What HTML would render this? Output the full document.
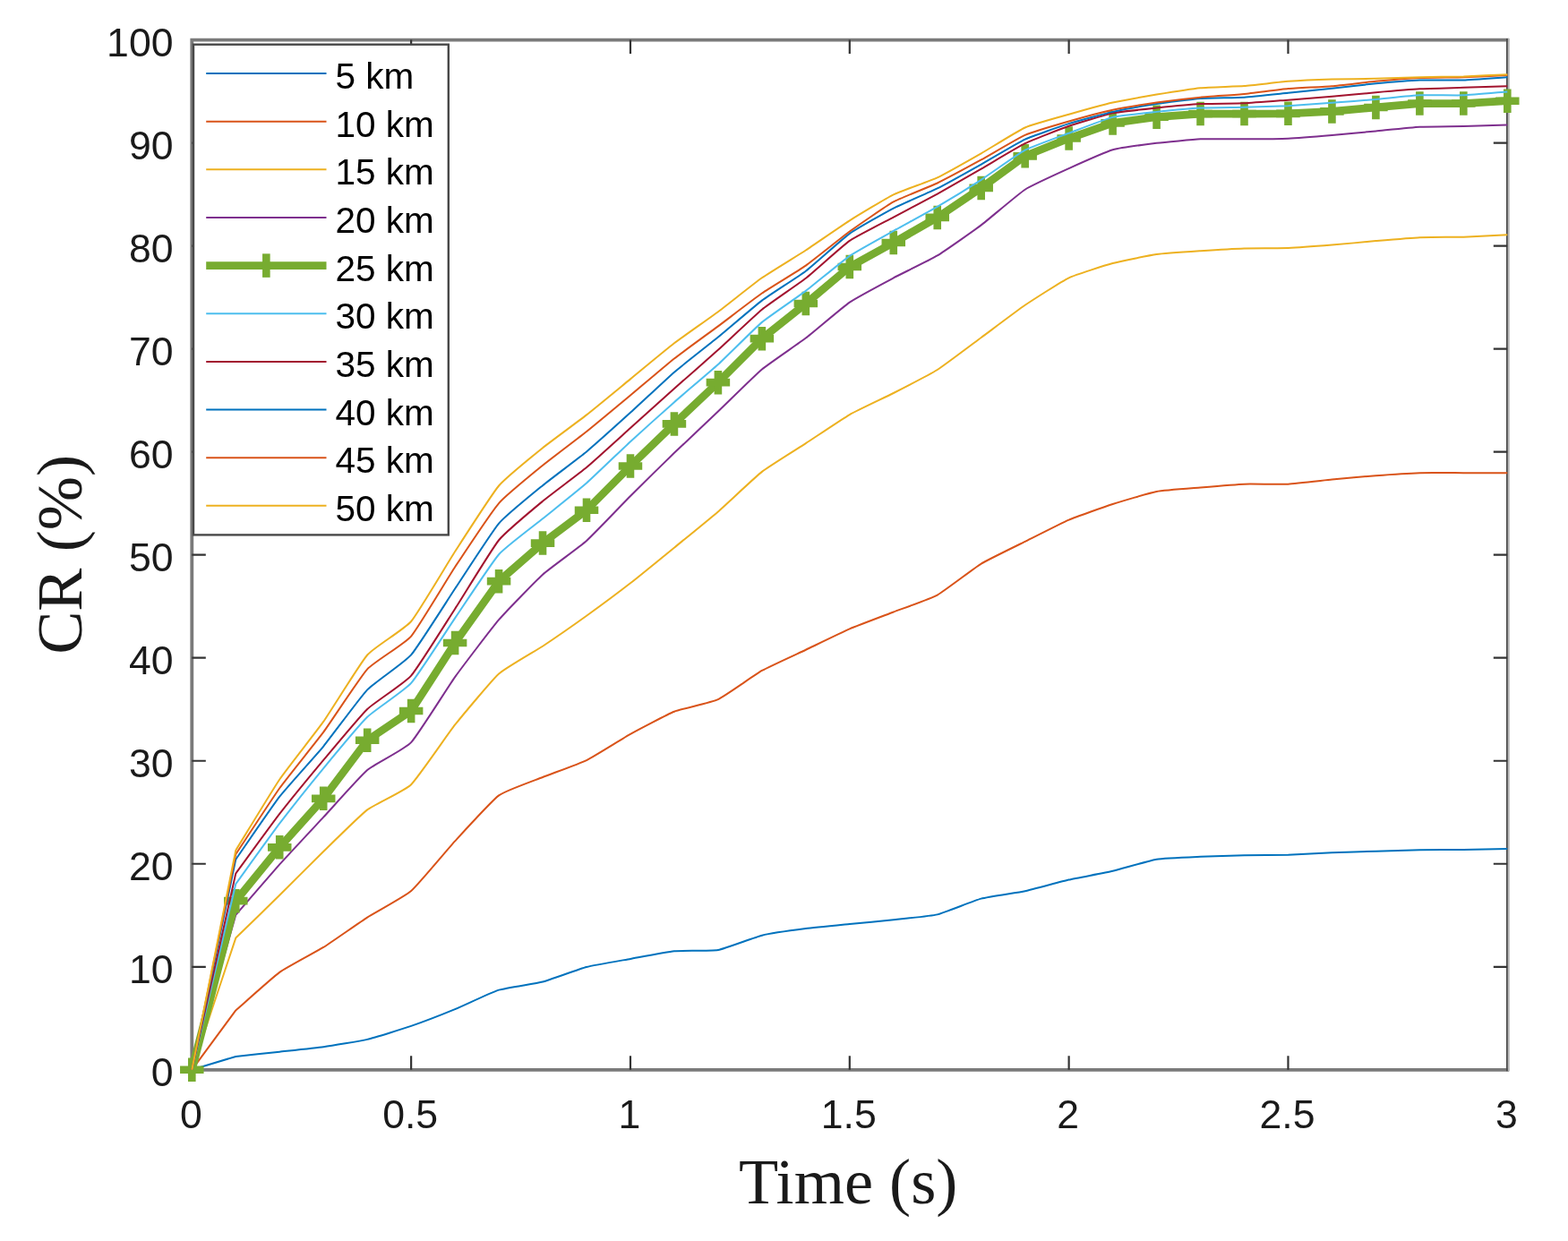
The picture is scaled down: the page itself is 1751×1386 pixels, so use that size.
<!DOCTYPE html><html><head><meta charset="utf-8"><title>CR vs Time</title><style>html,body{margin:0;padding:0;background:#fff;}svg{display:block;}</style></head><body>
<svg width="1751" height="1386" viewBox="0 0 1751 1386">
<rect x="0" y="0" width="1751" height="1386" fill="#ffffff"/>
<path fill="none" stroke="#7a7a7a" stroke-width="3.8" stroke-linecap="square" d="M214.3 44.6V1194.8M214.3 1194.8H1683.3M214.3 44.6H1683.3"/>
<line x1="1684.7" y1="43.1" x2="1684.7" y2="1196.3" stroke="#b8b8b8" stroke-width="2.2"/>
<line x1="1682.9" y1="43.1" x2="1682.9" y2="1196.3" stroke="#4c4c4c" stroke-width="1.8"/>
<path fill="none" stroke="#333333" stroke-width="2.2" d="M459.13 1194.8V1179.3M459.13 44.6V60.1M703.97 1194.8V1179.3M703.97 44.6V60.1M948.8 1194.8V1179.3M948.8 44.6V60.1M1193.63 1194.8V1179.3M1193.63 44.6V60.1M1438.47 1194.8V1179.3M1438.47 44.6V60.1M214.3 1079.78H229.8M1683.3 1079.78H1667.8M214.3 964.76H229.8M1683.3 964.76H1667.8M214.3 849.74H229.8M1683.3 849.74H1667.8M214.3 734.72H229.8M1683.3 734.72H1667.8M214.3 619.7H229.8M1683.3 619.7H1667.8M214.3 504.68H229.8M1683.3 504.68H1667.8M214.3 389.66H229.8M1683.3 389.66H1667.8M214.3 274.64H229.8M1683.3 274.64H1667.8M214.3 159.62H229.8M1683.3 159.62H1667.8"/>
<path fill="none" stroke="#0072BD" stroke-width="2.0" stroke-linejoin="round" d="M214.3 1194.8L263.27 1179.96C270.61 1179.17 304.89 1175.47 312.23 1174.67C319.58 1173.87 353.86 1170.3 361.2 1169.27C368.55 1168.23 402.82 1162.62 410.17 1160.87C417.51 1159.12 451.79 1148.44 459.13 1145.92C466.48 1143.39 500.75 1130.19 508.1 1127.17C515.45 1124.15 549.72 1107.95 557.07 1105.66C564.41 1103.36 598.69 1098.5 606.03 1096.57C613.38 1094.65 647.65 1081.93 655 1080.01C662.35 1078.09 696.62 1072.26 703.97 1070.92C711.31 1069.59 745.59 1062.92 752.93 1062.18C760.28 1061.44 794.56 1062.34 801.9 1061.03C809.25 1059.72 843.52 1046.49 850.87 1044.7C858.21 1042.9 892.49 1038.06 899.83 1037.11C907.18 1036.16 941.45 1032.79 948.8 1032.05C956.14 1031.3 990.42 1028.02 997.77 1027.22C1005.11 1026.41 1039.39 1023.12 1046.73 1021.35C1054.08 1019.58 1088.36 1005.59 1095.7 1003.64C1103.05 1001.68 1137.32 996.82 1144.67 995.24C1152.01 993.66 1186.29 984.27 1193.63 982.59C1200.98 980.91 1235.25 974.53 1242.6 972.81C1249.94 971.09 1284.22 960.9 1291.57 959.7C1298.91 958.5 1333.19 957.15 1340.53 956.82C1347.88 956.5 1382.15 955.48 1389.5 955.33C1396.85 955.17 1431.12 954.98 1438.47 954.75C1445.81 954.53 1480.09 952.64 1487.43 952.34C1494.78 952.04 1529.06 950.96 1536.4 950.73C1543.75 950.49 1578.02 949.37 1585.37 949.23C1592.71 949.09 1626.99 948.97 1634.33 948.89C1641.68 948.8 1675.95 948.2 1683.3 948.08"/>
<path fill="none" stroke="#D95319" stroke-width="2.0" stroke-linejoin="round" d="M214.3 1194.8L263.27 1128.43C270.61 1122.05 304.89 1091.16 312.23 1085.88C319.58 1080.59 353.86 1062.52 361.2 1057.93C368.55 1053.33 402.82 1029.29 410.17 1024.57C417.51 1019.85 451.79 1001.4 459.13 995.01C466.48 988.62 500.75 947.34 508.1 939.34C515.45 931.34 549.72 893.74 557.07 888.39C564.41 883.04 598.69 870.98 606.03 868.03C613.38 865.08 647.65 852.66 655 849.05C662.35 845.44 696.62 823.91 703.97 819.83C711.31 815.76 745.59 797.67 752.93 794.76C760.28 791.85 794.56 784.51 801.9 781.07C809.25 777.64 843.52 753.13 850.87 748.98C858.21 744.83 892.49 729.24 899.83 725.75C907.18 722.25 941.45 705.57 948.8 702.4C956.14 699.23 990.42 686.37 997.77 683.54C1005.11 680.7 1039.39 668.6 1046.73 664.56C1054.08 660.51 1088.36 634.07 1095.7 629.59C1103.05 625.11 1137.32 608.54 1144.67 604.86C1152.01 601.19 1186.29 583.73 1193.63 580.59C1200.98 577.45 1235.25 565.37 1242.6 563C1249.94 560.62 1284.22 550.35 1291.57 548.96C1298.91 547.57 1333.19 545.1 1340.53 544.48C1347.88 543.86 1382.15 540.97 1389.5 540.68C1396.85 540.4 1431.12 541.06 1438.47 540.68C1445.81 540.3 1480.09 536.34 1487.43 535.62C1494.78 534.9 1529.06 531.7 1536.4 531.13C1543.75 530.57 1578.02 528.37 1585.37 528.14C1592.71 527.92 1626.99 528.14 1634.33 528.14C1641.68 528.14 1675.95 528.14 1683.3 528.14"/>
<path fill="none" stroke="#EDB120" stroke-width="2.0" stroke-linejoin="round" d="M214.3 1194.8L263.27 1047.57C270.61 1040.41 304.89 1007.09 312.23 999.84C319.58 992.59 353.86 958.12 361.2 950.96C368.55 943.8 402.82 909.98 410.17 904.37C417.51 898.77 451.79 883.31 459.13 876.19C466.48 869.08 500.75 818.76 508.1 809.48C515.45 800.21 549.72 759.13 557.07 752.55C564.41 745.97 598.69 726.58 606.03 721.72C613.38 716.87 647.65 693.07 655 687.79C662.35 682.51 696.62 657.04 703.97 651.33C711.31 645.62 745.59 617.64 752.93 611.65C760.28 605.65 794.56 577.75 801.9 571.39C809.25 565.03 843.52 532.6 850.87 526.88C858.21 521.16 892.49 499.92 899.83 495.13C907.18 490.35 941.45 467.25 948.8 463.04C956.14 458.83 990.42 442.76 997.77 439C1005.11 435.25 1039.39 417.66 1046.73 413.01C1054.08 408.36 1088.36 382.43 1095.7 377.01C1103.05 371.59 1137.32 345.78 1144.67 340.78C1152.01 335.77 1186.29 313.8 1193.63 310.3C1200.98 306.79 1235.25 296.05 1242.6 294.08C1249.94 292.1 1284.22 285 1291.57 283.96C1298.91 282.91 1333.19 280.65 1340.53 280.16C1347.88 279.67 1382.15 277.63 1389.5 277.4C1396.85 277.17 1431.12 277.34 1438.47 277.06C1445.81 276.77 1480.09 274.2 1487.43 273.6C1494.78 273.01 1529.06 269.75 1536.4 269.12C1543.75 268.49 1578.02 265.54 1585.37 265.21C1592.71 264.87 1626.99 264.85 1634.33 264.63C1641.68 264.42 1675.95 262.68 1683.3 262.33"/>
<path fill="none" stroke="#7E2F8E" stroke-width="2.0" stroke-linejoin="round" d="M214.3 1194.8L263.27 1021.81C270.61 1013.36 304.89 973.64 312.23 965.45C319.58 957.26 353.86 920.56 361.2 912.66C368.55 904.75 402.82 866.35 410.17 860.09C417.51 853.83 451.79 836.95 459.13 829.15C466.48 821.35 500.75 766.39 508.1 756.11C515.45 745.84 549.72 700.75 557.07 692.16C564.41 683.58 598.69 648.29 606.03 641.67C613.38 635.05 647.65 610.52 655 603.94C662.35 597.37 696.62 561.38 703.97 554.02C711.31 546.67 745.59 512.91 752.93 505.83C760.28 498.75 794.56 466.59 801.9 459.59C809.25 452.6 843.52 418.7 850.87 412.55C858.21 406.4 892.49 383.21 899.83 377.58C907.18 371.96 941.45 342.59 948.8 337.56C956.14 332.52 990.42 314.32 997.77 310.41C1005.11 306.5 1039.39 289.88 1046.73 285.45C1054.08 281.03 1088.36 256.94 1095.7 251.41C1103.05 245.88 1137.32 216.47 1144.67 211.72C1152.01 206.98 1186.29 191.47 1193.63 188.14C1200.98 184.82 1235.25 169.45 1242.6 167.33C1249.94 165.2 1284.22 160.75 1291.57 159.85C1298.91 158.95 1333.19 155.7 1340.53 155.36C1347.88 155.03 1382.15 155.42 1389.5 155.36C1396.85 155.31 1431.12 155 1438.47 154.67C1445.81 154.35 1480.09 151.61 1487.43 150.99C1494.78 150.37 1529.06 147.09 1536.4 146.39C1543.75 145.69 1578.02 142.08 1585.37 141.68C1592.71 141.27 1626.99 141.16 1634.33 140.99C1641.68 140.81 1675.95 139.62 1683.3 139.38"/>
<polyline fill="none" stroke="#77AC30" stroke-width="8.7" stroke-linejoin="round" points="214.3,1194.8 263.27,1006.17 312.23,946.36 361.2,891.84 410.17,826.74 459.13,793.96 508.1,718.04 557.07,649.15 606.03,606.59 655,569.78 703.97,520.55 752.93,473.39 801.9,427.16 850.87,378.16 899.83,339.05 948.8,297.99 997.77,270.96 1046.73,242.89 1095.7,209.88 1144.67,174.34 1193.63,154.56 1242.6,137.42 1291.57,130.63 1340.53,127.07 1389.5,127.07 1438.47,126.84 1487.43,124.42 1536.4,119.94 1585.37,115.57 1634.33,115.57 1683.3,112.69"/>
<path fill="none" stroke="#77AC30" stroke-width="8.6" d="M201.05 1194.8H227.55M214.3 1181.55V1208.05M250.02 1006.17H276.52M263.27 992.92V1019.42M298.98 946.36H325.48M312.23 933.11V959.61M347.95 891.84H374.45M361.2 878.59V905.09M396.92 826.74H423.42M410.17 813.49V839.99M445.88 793.96H472.38M459.13 780.71V807.21M494.85 718.04H521.35M508.1 704.79V731.29M543.82 649.15H570.32M557.07 635.9V662.4M592.78 606.59H619.28M606.03 593.34V619.84M641.75 569.78H668.25M655 556.53V583.03M690.72 520.55H717.22M703.97 507.3V533.8M739.68 473.39H766.18M752.93 460.14V486.64M788.65 427.16H815.15M801.9 413.91V440.41M837.62 378.16H864.12M850.87 364.91V391.41M886.58 339.05H913.08M899.83 325.8V352.3M935.55 297.99H962.05M948.8 284.74V311.24M984.52 270.96H1011.02M997.77 257.71V284.21M1033.48 242.89H1059.98M1046.73 229.64V256.14M1082.45 209.88H1108.95M1095.7 196.63V223.13M1131.42 174.34H1157.92M1144.67 161.09V187.59M1180.38 154.56H1206.88M1193.63 141.31V167.81M1229.35 137.42H1255.85M1242.6 124.17V150.67M1278.32 130.63H1304.82M1291.57 117.38V143.88M1327.28 127.07H1353.78M1340.53 113.82V140.32M1376.25 127.07H1402.75M1389.5 113.82V140.32M1425.22 126.84H1451.72M1438.47 113.59V140.09M1474.18 124.42H1500.68M1487.43 111.17V137.67M1523.15 119.94H1549.65M1536.4 106.69V133.19M1572.12 115.57H1598.62M1585.37 102.32V128.82M1621.08 115.57H1647.58M1634.33 102.32V128.82M1670.05 112.69H1696.55M1683.3 99.44V125.94"/>
<path fill="none" stroke="#4DBEEE" stroke-width="2.0" stroke-linejoin="round" d="M214.3 1194.8L263.27 987.19C270.61 977.06 304.89 929.36 312.23 919.67C319.58 909.98 353.86 866.94 361.2 858.02C368.55 849.1 402.82 807.88 410.17 800.74C417.51 793.61 451.79 771.18 459.13 762.9C466.48 754.62 500.75 701.1 508.1 690.32C515.45 679.55 549.72 627.56 557.07 619.24C564.41 610.92 598.69 585.31 606.03 579.33C613.38 573.35 647.65 545.99 655 539.53C662.35 533.07 696.62 499.96 703.97 493.18C711.31 486.4 745.59 455.59 752.93 449.13C760.28 442.66 794.56 413.72 801.9 407.03C809.25 400.33 843.52 366.03 850.87 359.87C858.21 353.71 892.49 330.46 899.83 324.9C907.18 319.35 941.45 290.83 948.8 285.8C956.14 280.77 990.42 261.97 997.77 257.85C1005.11 253.72 1039.39 235.1 1046.73 230.82C1054.08 226.54 1088.36 205.53 1095.7 200.8C1103.05 196.06 1137.32 171.58 1144.67 167.67C1152.01 163.76 1186.29 151.45 1193.63 148.69C1200.98 145.93 1235.25 132.65 1242.6 130.87C1249.94 129.08 1284.22 125.66 1291.57 124.88C1298.91 124.11 1333.19 120.9 1340.53 120.51C1347.88 120.13 1382.15 119.88 1389.5 119.71C1396.85 119.54 1431.12 118.58 1438.47 118.21C1445.81 117.84 1480.09 115.31 1487.43 114.76C1494.78 114.22 1529.06 111.6 1536.4 110.97C1543.75 110.34 1578.02 106.71 1585.37 106.37C1592.71 106.02 1626.99 106.66 1634.33 106.37C1641.68 106.07 1675.95 103.04 1683.3 102.46"/>
<path fill="none" stroke="#A2142F" stroke-width="2.0" stroke-linejoin="round" d="M214.3 1194.8L263.27 975.57C270.61 965.58 304.89 918.47 312.23 908.98C319.58 899.48 353.86 857.71 361.2 848.93C368.55 840.16 402.82 799.07 410.17 792C417.51 784.93 451.79 763.02 459.13 754.62C466.48 746.22 500.75 691.32 508.1 679.97C515.45 668.62 549.72 612.27 557.07 603.25C564.41 594.24 598.69 565.86 606.03 559.77C613.38 553.68 647.65 528.17 655 522.05C662.35 515.92 696.62 484.72 703.97 478.11C711.31 471.5 745.59 440.49 752.93 433.94C760.28 427.4 794.56 397.43 801.9 390.81C809.25 384.19 843.52 351.73 850.87 345.72C858.21 339.72 892.49 316.52 899.83 310.76C907.18 304.99 941.45 274 948.8 268.89C956.14 263.78 990.42 246.59 997.77 242.66C1005.11 238.74 1039.39 220.61 1046.73 216.55C1054.08 212.5 1088.36 192.83 1095.7 188.61C1103.05 184.38 1137.32 163.78 1144.67 160.2C1152.01 156.61 1186.29 143.29 1193.63 140.76C1200.98 138.22 1235.25 127.9 1242.6 126.38C1249.94 124.86 1284.22 121.29 1291.57 120.51C1298.91 119.74 1333.19 116.42 1340.53 116.03C1347.88 115.64 1382.15 115.67 1389.5 115.34C1396.85 115.01 1431.12 112.22 1438.47 111.66C1445.81 111.1 1480.09 108.49 1487.43 107.86C1494.78 107.23 1529.06 103.9 1536.4 103.26C1543.75 102.62 1578.02 99.75 1585.37 99.35C1592.71 98.94 1626.99 98.09 1634.33 97.85C1641.68 97.62 1675.95 96.49 1683.3 96.24"/>
<path fill="none" stroke="#0072BD" stroke-width="2.0" stroke-linejoin="round" d="M214.3 1194.8L263.27 959.81C270.61 949.29 304.89 899.12 312.23 889.65C319.58 880.18 353.86 842.47 361.2 833.52C368.55 824.58 402.82 778.04 410.17 770.38C417.51 762.72 451.79 739.85 459.13 731.38C466.48 722.92 500.75 668.55 508.1 657.54C515.45 646.53 549.72 593.27 557.07 584.62C564.41 575.97 598.69 548.19 606.03 542.18C613.38 536.16 647.65 510.55 655 504.45C662.35 498.35 696.62 467.52 703.97 460.86C711.31 454.2 745.59 421.98 752.93 415.65C760.28 409.33 794.56 382.55 801.9 376.55C809.25 370.54 843.52 341.14 850.87 335.6C858.21 330.06 892.49 308.31 899.83 302.7C907.18 297.1 941.45 266.1 948.8 260.84C956.14 255.58 990.42 236.32 997.77 232.54C1005.11 228.76 1039.39 214.13 1046.73 210.46C1054.08 206.78 1088.36 187.66 1095.7 183.54C1103.05 179.43 1137.32 159 1144.67 155.59C1152.01 152.19 1186.29 140.41 1193.63 138.11C1200.98 135.81 1235.25 126.54 1242.6 124.88C1249.94 123.23 1284.22 117.14 1291.57 116.03C1298.91 114.91 1333.19 110.6 1340.53 110.05C1347.88 109.49 1382.15 109.14 1389.5 108.67C1396.85 108.19 1431.12 104.47 1438.47 103.72C1445.81 102.97 1480.09 99.44 1487.43 98.66C1494.78 97.87 1529.06 93.94 1536.4 93.25C1543.75 92.56 1578.02 89.74 1585.37 89.46C1592.71 89.17 1626.99 89.7 1634.33 89.46C1641.68 89.22 1675.95 86.72 1683.3 86.24"/>
<path fill="none" stroke="#D95319" stroke-width="2.0" stroke-linejoin="round" d="M214.3 1194.8L263.27 954.06C270.61 942.99 304.89 890.45 312.23 880.22C319.58 869.99 353.86 827.61 361.2 817.65C368.55 807.69 402.82 755.4 410.17 747.37C417.51 739.34 451.79 719.12 459.13 710.57C466.48 702.01 500.75 644.41 508.1 633.27C515.45 622.14 549.72 570.59 557.07 562.07C564.41 553.56 598.69 525.75 606.03 519.75C613.38 513.74 647.65 487.89 655 482.02C662.35 476.16 696.62 447.65 703.97 441.53C711.31 435.42 745.59 406.26 752.93 400.47C760.28 394.68 794.56 369.82 801.9 364.36C809.25 358.89 843.52 332.63 850.87 327.55C858.21 322.47 892.49 301.78 899.83 296.61C907.18 291.43 941.45 263.88 948.8 258.54C956.14 253.2 990.42 229.47 997.77 225.41C1005.11 221.36 1039.39 208 1046.73 204.48C1054.08 200.96 1088.36 182.5 1095.7 178.48C1103.05 174.46 1137.32 154.1 1144.67 150.88C1152.01 147.65 1186.29 137.58 1193.63 135.47C1200.98 133.35 1235.25 124.27 1242.6 122.7C1249.94 121.13 1284.22 115.58 1291.57 114.53C1298.91 113.48 1333.19 109.38 1340.53 108.67C1347.88 107.95 1382.15 105.7 1389.5 104.99C1396.85 104.27 1431.12 99.78 1438.47 99.12C1445.81 98.46 1480.09 96.87 1487.43 96.24C1494.78 95.62 1529.06 91.53 1536.4 90.84C1543.75 90.15 1578.02 87.39 1585.37 87.04C1592.71 86.7 1626.99 86.47 1634.33 86.24C1641.68 86 1675.95 84.28 1683.3 83.94"/>
<path fill="none" stroke="#EDB120" stroke-width="2.0" stroke-linejoin="round" d="M214.3 1194.8L263.27 949.69C270.61 937.81 304.89 881.23 312.23 870.44C319.58 859.66 353.86 816.34 361.2 805.92C368.55 795.5 402.82 739.89 410.17 731.5C417.51 723.11 451.79 702.66 459.13 694C466.48 685.34 500.75 627.38 508.1 616.02C515.45 604.66 549.72 551.21 557.07 542.52C564.41 533.83 598.69 506.13 606.03 500.19C613.38 494.26 647.65 469.15 655 463.39C662.35 457.63 696.62 429.36 703.97 423.36C711.31 417.36 745.59 388.97 752.93 383.33C760.28 377.7 794.56 353.73 801.9 348.25C809.25 342.77 843.52 315.45 850.87 310.3C858.21 305.14 892.49 284.27 899.83 279.47C907.18 274.67 941.45 251 948.8 246.35C956.14 241.69 990.42 220.96 997.77 217.36C1005.11 213.76 1039.39 201.83 1046.73 198.38C1054.08 194.93 1088.36 175.54 1095.7 171.35C1103.05 167.16 1137.32 145.75 1144.67 142.48C1152.01 139.21 1186.29 129.86 1193.63 127.76C1200.98 125.66 1235.25 116.2 1242.6 114.53C1249.94 112.87 1284.22 106.79 1291.57 105.56C1298.91 104.34 1333.19 98.92 1340.53 98.2C1347.88 97.48 1382.15 96.57 1389.5 96.01C1396.85 95.46 1431.12 91.4 1438.47 90.84C1445.81 90.28 1480.09 88.76 1487.43 88.54C1494.78 88.31 1529.06 88.02 1536.4 87.85C1543.75 87.67 1578.02 86.42 1585.37 86.24C1592.71 86.06 1626.99 85.67 1634.33 85.43C1641.68 85.2 1675.95 83.48 1683.3 83.13"/>
<g font-family="'Liberation Sans', Arial, Helvetica, sans-serif" font-size="44.6" fill="#1a1a1a">
<text x="213.3" y="1260.3" text-anchor="middle">0</text>
<text x="458.13" y="1260.3" text-anchor="middle">0.5</text>
<text x="702.97" y="1260.3" text-anchor="middle">1</text>
<text x="947.8" y="1260.3" text-anchor="middle">1.5</text>
<text x="1192.63" y="1260.3" text-anchor="middle">2</text>
<text x="1437.47" y="1260.3" text-anchor="middle">2.5</text>
<text x="1682.3" y="1260.3" text-anchor="middle">3</text>
<text x="193.5" y="1213.47" text-anchor="end">0</text>
<text x="193.5" y="1098.45" text-anchor="end">10</text>
<text x="193.5" y="983.43" text-anchor="end">20</text>
<text x="193.5" y="868.41" text-anchor="end">30</text>
<text x="193.5" y="753.39" text-anchor="end">40</text>
<text x="193.5" y="638.37" text-anchor="end">50</text>
<text x="193.5" y="523.35" text-anchor="end">60</text>
<text x="193.5" y="408.33" text-anchor="end">70</text>
<text x="193.5" y="293.31" text-anchor="end">80</text>
<text x="193.5" y="178.29" text-anchor="end">90</text>
<text x="193.5" y="63.27" text-anchor="end">100</text>
</g>
<text x="947.2" y="1344" text-anchor="middle" font-family="'Liberation Serif', 'Times New Roman', serif" font-size="72.3" fill="#1a1a1a">Time (s)</text>
<text transform="translate(90.6 619.4) rotate(-90)" x="0" y="0" text-anchor="middle" font-family="'Liberation Serif', 'Times New Roman', serif" font-size="72.3" fill="#1a1a1a">CR (%)</text>
<rect x="216" y="49.7" width="284.8" height="547.7" fill="#ffffff" stroke="#484848" stroke-width="2.4"/>
<g font-family="'Liberation Sans', Arial, Helvetica, sans-serif" font-size="40.5" fill="#000000">
<line x1="230.2" y1="82" x2="364.5" y2="82" stroke="#0072BD" stroke-width="2.0"/>
<text x="374.5" y="99">5 km</text>
<line x1="230.2" y1="135.65" x2="364.5" y2="135.65" stroke="#D95319" stroke-width="2.0"/>
<text x="374.5" y="152.65">10 km</text>
<line x1="230.2" y1="189.3" x2="364.5" y2="189.3" stroke="#EDB120" stroke-width="2.0"/>
<text x="374.5" y="206.3">15 km</text>
<line x1="230.2" y1="242.95" x2="364.5" y2="242.95" stroke="#7E2F8E" stroke-width="2.0"/>
<text x="374.5" y="259.95">20 km</text>
<line x1="230.2" y1="296.6" x2="364.5" y2="296.6" stroke="#77AC30" stroke-width="8.7"/>
<line x1="297.35" y1="283.35" x2="297.35" y2="309.85" stroke="#77AC30" stroke-width="8.6"/>
<text x="374.5" y="313.6">25 km</text>
<line x1="230.2" y1="350.25" x2="364.5" y2="350.25" stroke="#4DBEEE" stroke-width="2.0"/>
<text x="374.5" y="367.25">30 km</text>
<line x1="230.2" y1="403.9" x2="364.5" y2="403.9" stroke="#A2142F" stroke-width="2.0"/>
<text x="374.5" y="420.9">35 km</text>
<line x1="230.2" y1="457.55" x2="364.5" y2="457.55" stroke="#0072BD" stroke-width="2.0"/>
<text x="374.5" y="474.55">40 km</text>
<line x1="230.2" y1="511.2" x2="364.5" y2="511.2" stroke="#D95319" stroke-width="2.0"/>
<text x="374.5" y="528.2">45 km</text>
<line x1="230.2" y1="564.85" x2="364.5" y2="564.85" stroke="#EDB120" stroke-width="2.0"/>
<text x="374.5" y="581.85">50 km</text>
</g>
</svg></body></html>
